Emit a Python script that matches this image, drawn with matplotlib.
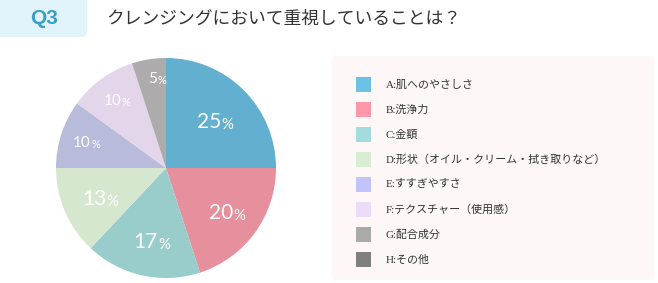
import matplotlib
matplotlib.use("Agg")
import matplotlib.pyplot as plt
import numpy as np
from matplotlib.patches import FancyBboxPatch, Rectangle

plt.rcParams['font.family'] = ['Noto Sans CJK JP', 'DejaVu Sans']

title = "クレンジングにおいて重視していることは？"
question = "Q3"
categories = ["A:肌へのやさしさ", "B:洗浄力", "C:金額",
              "D:形状（オイル・クリーム・拭き取りなど）", "E:すすぎやすさ",
              "F:テクスチャー（使用感）", "G:配合成分", "H:その他"]
values = [25, 20, 17, 13, 10, 10, 5, 0]

pie_colors = ["#63afcf", "#e5909c", "#99cdcc", "#d6e7d0", "#b9bbdb",
              "#e3d5ea", "#aeabad", "#7f7f7f"]
legend_colors = ["#6cc2e6", "#fe98a8", "#a2dcdc", "#d9edd2", "#c2c3fa",
                 "#ecdcfa", "#aaaaaa", "#808080"]
label_dist = [0.61, 0.67, 0.67, 0.67, 0.77, 0.77, 0.83, 0.8]

W, H = 658, 283
fig = plt.figure(figsize=(W / 100, H / 100), dpi=100)
fig.patch.set_facecolor("white")

# overlay axes in pixel coordinates (y down)
bg = fig.add_axes([0, 0, 1, 1])
bg.set_xlim(0, W)
bg.set_ylim(H, 0)
bg.axis("off")

# title box
bg.add_patch(FancyBboxPatch((-10, -10), 97, 47, boxstyle="round,pad=0,rounding_size=6",
                            fc="#e1f4fc", ec="none"))
bg.text(44, 19, question, color="#3a9fc6", fontsize=15, fontweight="bold",
        ha="center", va="center", family=["Liberation Sans"])
bg.text(106, 19, title, color="#333333", fontsize=12.8, ha="left", va="center")

# legend panel
bg.add_patch(FancyBboxPatch((332, 56), 322, 224, boxstyle="round,pad=0,rounding_size=4",
                            fc="#fdf7f7", ec="none"))
for i, (cat, col) in enumerate(zip(categories, legend_colors)):
    y = 84.5 + i * 25
    bg.add_patch(Rectangle((356, y - 7.5), 15, 15, fc=col, ec="none"))
    bg.text(386, y, cat, color="#333333", fontsize=7.9, ha="left", va="center",
            family=["Liberation Serif", "Noto Sans CJK JP"])

# pie
cx, cy, r = 166, 168, 110
pax = fig.add_axes([(cx - r) / W, (H - cy - r) / H, 2 * r / W, 2 * r / H])
shown = [v for v in values if v > 0]
wedges, _ = pax.pie(shown, colors=pie_colors[:len(shown)], startangle=90,
                    counterclock=False, radius=1, wedgeprops=dict(linewidth=0))
pax.set_xlim(-1, 1)
pax.set_ylim(-1, 1)
pax.set_aspect("equal")
pax.axis("off")

for w, v, d in zip(wedges, shown, label_dist):
    ang = np.deg2rad((w.theta1 + w.theta2) / 2)
    x, y = d * np.cos(ang), d * np.sin(ang)
    big = v >= 13
    fs = 15 if big else 11
    t = pax.text(x + (0.07 if big else 0.05), y - (0.07 if big else 0.05), f"{v}",
                 color="white", fontsize=fs, ha="right", va="baseline", family=["Lato"])
    pax.annotate("%", xy=(1, 0), xycoords=t, xytext=(0.2, 0), textcoords="offset points",
                 color="white", fontsize=fs * 0.72, ha="left", va="bottom",
                 family=["Lato"])

fig.savefig("out.png", dpi=100, facecolor="white")
